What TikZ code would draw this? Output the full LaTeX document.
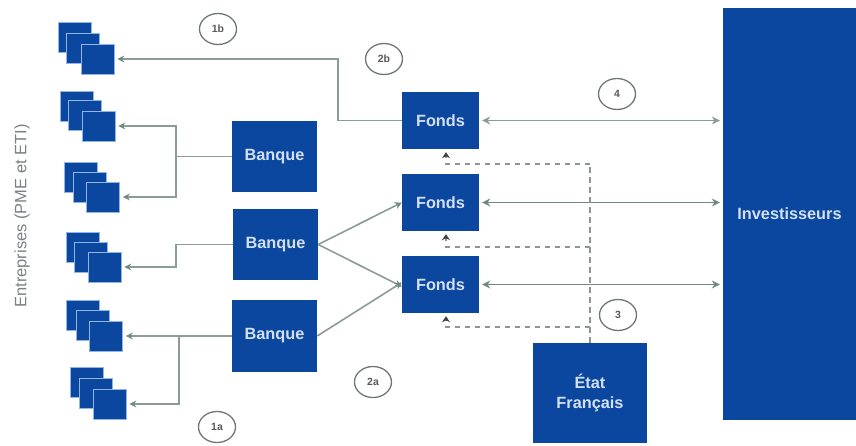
\documentclass[tikz,border=0pt]{standalone}
\usepackage{fontspec}
\setmainfont{Liberation Sans}
\usetikzlibrary{arrows.meta,shapes.geometric}
\definecolor{bleu}{HTML}{0B479F}
\definecolor{liseret}{HTML}{8FB6E6}
\definecolor{trait}{HTML}{8A9C95}
\definecolor{traitfonce}{HTML}{6F8A80}
\definecolor{pointille}{HTML}{8F9596}
\definecolor{cercle}{HTML}{6E7672}
\definecolor{legende}{HTML}{7C8184}
\definecolor{pale}{HTML}{D3E0F2}
\tikzset{
  bloc/.style={rectangle,fill=bleu,inner sep=0pt,text=pale,align=center,font=\fontsize{16.3}{20}\selectfont\bfseries},
  carre/.style={rectangle,fill=bleu,draw=liseret,line width=.7pt,inner sep=0pt,minimum width=33pt,minimum height=30pt},
  lien/.style={draw=trait,line width=1.6pt,-{Stealth[length=7pt,width=7pt,color=traitfonce]},shorten >=3pt},
  lienfort/.style={draw=traitfonce,line width=1.6pt,{Stealth[length=8pt,width=8pt]}-{Stealth[length=8pt,width=8pt]},shorten >=3pt,shorten <=3pt},
  tiret/.style={draw=pointille,line width=1.5pt,dash pattern=on 5.5pt off 4.5pt},
  tiretfin/.style={tiret,-{Stealth[length=6pt,width=8pt,color=black!75]},shorten >=3pt},
  repere/.style={ellipse,draw=cercle,line width=1.3pt,fill=white,minimum width=37pt,minimum height=31pt,inner sep=0pt,text=black!65,font=\fontsize{10.5}{12}\selectfont\bfseries},
}
\begin{document}
\begin{tikzpicture}[x=1pt,y=-1pt]
\useasboundingbox (0,0) rectangle (856,445);
% stacks
\node[carre] (s1a) at (75,37) {};
\node[carre] (s1b) at (83,48) {};
\node[carre] (s1) at (97.5,59) {};
\node[carre] (s2a) at (77,106) {};
\node[carre] (s2b) at (85,115) {};
\node[carre] (s2) at (98.5,126) {};
\node[carre] (s3a) at (81,177.5) {};
\node[carre] (s3b) at (89.5,187) {};
\node[carre] (s3) at (103,197) {};
\node[carre] (s4a) at (82.5,247) {};
\node[carre] (s4b) at (90.5,257) {};
\node[carre] (s4) at (104.5,267) {};
\node[carre] (s5a) at (83,315) {};
\node[carre] (s5b) at (93,325) {};
\node[carre] (s5) at (106,336) {};
\node[carre] (s6a) at (86.5,382) {};
\node[carre] (s6b) at (95.5,393) {};
\node[carre] (s6) at (109.5,404) {};
% blocks
\node[bloc,minimum width=85pt,minimum height=71pt] (b1) at (274.5,156.5) {Banque};
\node[bloc,minimum width=85pt,minimum height=71pt] (b2) at (275.5,244.5) {Banque};
\node[bloc,minimum width=85pt,minimum height=72pt] (b3) at (274.5,336) {Banque};
\node[bloc,minimum width=77pt,minimum height=57pt] (f1) at (440.5,120.5) {Fonds};
\node[bloc,minimum width=77pt,minimum height=57pt] (f2) at (440.5,202.5) {Fonds};
\node[bloc,minimum width=77pt,minimum height=57pt] (f3) at (440.5,284.5) {Fonds};
\node[bloc,minimum width=114pt,minimum height=100pt] (etat) at (590,393) {État\\Français};
\node[bloc,minimum width=133pt,minimum height=412pt] (inv) at (789.5,214) {Investisseurs};
% side label
\node[rotate=90,text=legende,font=\fontsize{16.5}{18}\selectfont] (ent) at (22,216) {Entreprises (PME et ETI)};
% connectors
\coordinate (c0) at (338,120.5);
\coordinate (c1) at (176,156.5);
\coordinate (c2) at (176,244.5);
\coordinate (c3) at (179,336);
\draw[lien] (f1.west) -- (c0) |- (s1.east);
\draw[lien] (b1.west) -- (c1) |- (s2.east);
\draw[lien] (c1) |- (s3.east);
\draw[lien] (b2.west) -- (c2) |- (s4.east);
\draw[lien] (b3.west) -- (c3) -- (s5.east);
\draw[lien] (c3) |- (s6.east);
\draw[lien,shorten >=0pt] (b2.east) -- (f2.west);
\draw[lien,shorten >=0pt] (b2.east) -- ([yshift=-2pt]f3.west);
\draw[lien,shorten >=0pt] (b3.east) -- ([yshift=2pt]f3.west);
\draw[lienfort,draw=trait] (f1.east) -- (f1.east -| inv.west);
\draw[lienfort] (f2.east) -- (f2.east -| inv.west);
\draw[lienfort] (f3.east) -- (f3.east -| inv.west);
% dashed
\coordinate (d0) at (590,164);
\coordinate (d1) at (590,247);
\coordinate (d2) at (590,327);
\draw[tiret] (etat.north) -- (d0);
\draw[tiretfin] (d0) -| ([xshift=5.5pt]f1.south);
\draw[tiretfin] (d1) -| ([xshift=5.5pt]f2.south);
\draw[tiretfin] (d2) -| ([xshift=5.5pt]f3.south);
% markers
\node[repere] (r1b) at (218,29) {1b};
\node[repere] (r2b) at (384,59) {2b};
\node[repere] (r4) at (617,94) {4};
\node[repere] (r3) at (618,315) {3};
\node[repere] (r2a) at (373,382) {2a};
\node[repere] (r1a) at (217,427) {1a};
\end{tikzpicture}
\end{document}
